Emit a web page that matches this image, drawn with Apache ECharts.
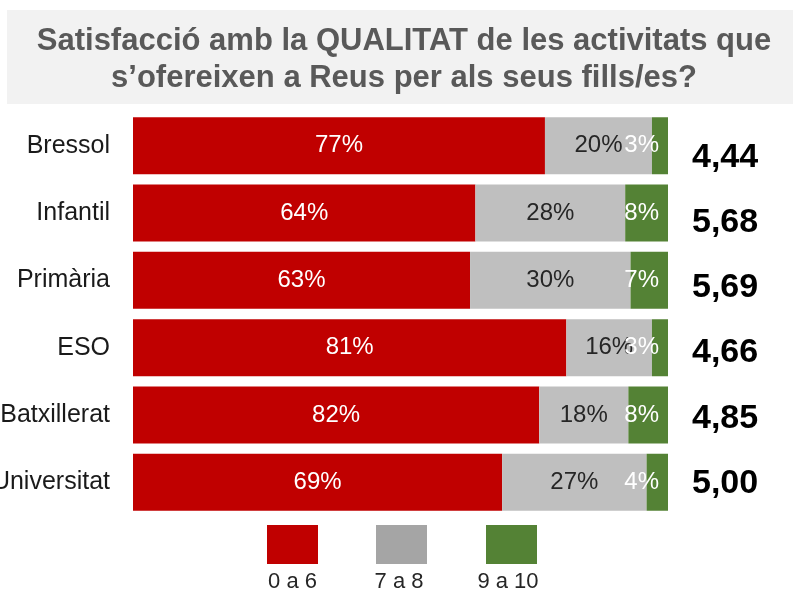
<!DOCTYPE html>
<html>
<head>
<meta charset="utf-8">
<script src="https://cdn.jsdelivr.net/npm/echarts@6/dist/echarts.min.js"></script>
<style>html,body{margin:0;padding:0;background:#fff;}#c{width:793px;height:590px;}</style>
</head>
<body>
<div id="c"></div>
<script>
var categories = ['Bressol', 'Infantil', 'Primària', 'ESO', 'Batxillerat', 'Universitat'];
var seriesNames = ['0 a 6', '7 a 8', '9 a 10'];
var low = [77, 64, 63, 81, 82, 69];
var mid = [20, 28, 30, 16, 18, 27];
var high = [3, 8, 7, 3, 8, 4];
var scores = [4.44, 5.68, 5.69, 4.66, 4.85, 5.00];

var FONT = "'Liberation Sans', Arial, sans-serif";
var raw = [low, mid, high];
var totals = categories.map(function (c, i) { return low[i] + mid[i] + high[i]; });
function shares(arr) {
  return arr.map(function (v, i) { return { value: v / totals[i] * 100, raw: v }; });
}
function pctLabel(p) { return p.data.raw + '%'; }

var colors = ['#C00000', '#BFBFBF', '#548235'];
var legendColors = ['#C00000', '#A5A5A5', '#548235'];
var labelColors = ['#FFFFFF', '#262626', '#FFFFFF'];

var chart = echarts.init(document.getElementById('c'), null, { renderer: 'canvas' });

var series = raw.map(function (arr, k) {
  return {
    name: seriesNames[k],
    type: 'bar',
    stack: 'total',
    barCategoryGap: '15.4%',
    xAxisIndex: 0,
    yAxisIndex: 0,
    data: shares(arr),
    itemStyle: { color: colors[k] },
    label: {
      show: true,
      position: k === 2 ? 'insideRight' : 'inside',
      distance: 9,
      formatter: pctLabel,
      color: labelColors[k],
      fontFamily: FONT,
      fontSize: 24
    }
  };
});

var legendLefts = [267, 376, 486];
var legendTextX = [292.5, 399, 508];
var legends = seriesNames.map(function (n, k) {
  return {
    show: true,
    left: legendLefts[k],
    top: 525,
    padding: 0,
    orient: 'horizontal',
    itemWidth: 51,
    itemHeight: 39,
    icon: 'rect',
    selectedMode: false,
    formatter: function () { return ''; },
    data: [{ name: n, icon: 'rect', itemStyle: { color: legendColors[k] } }]
  };
});

var legendTexts = seriesNames.map(function (n, k) {
  return {
    type: 'text',
    x: legendTextX[k],
    y: 582,
    style: {
      text: n,
      fontFamily: FONT,
      fontSize: 22,
      fill: '#262626',
      align: 'center',
      verticalAlign: 'middle'
    }
  };
});

chart.setOption({
  animation: false,
  backgroundColor: '#FFFFFF',
  graphic: [{
    type: 'rect',
    z: -10,
    shape: { x: 7, y: 10, width: 800, height: 94 },
    style: { fill: '#F2F2F2' }
  }].concat(legendTexts),
  title: {
    text: 'Satisfacció amb la QUALITAT de les activitats que\ns’ofereixen a Reus per als seus fills/es?',
    left: 404,
    top: 23,
    padding: 0,
    textAlign: 'center',
    textStyle: {
      fontFamily: FONT,
      fontWeight: 'bold',
      fontSize: 31,
      lineHeight: 37,
      color: '#595959'
    }
  },
  legend: legends,
  grid: [
    { left: 133, right: 125, top: 112, height: 404, containLabel: false, outerBoundsMode: 'none' },
    { left: 600, width: 66, top: 125, height: 391, containLabel: false, outerBoundsMode: 'none' }
  ],
  xAxis: [
    { type: 'value', min: 0, max: 100, show: false, gridIndex: 0 },
    { type: 'value', min: 0, max: 100, show: false, gridIndex: 1 }
  ],
  yAxis: [{
    type: 'category',
    gridIndex: 0,
    data: categories,
    inverse: true,
    position: 'left',
    axisLine: { show: false },
    axisTick: { show: false },
    axisLabel: { margin: 23, fontFamily: FONT, fontSize: 25, color: '#1A1A1A' }
  }, {
    type: 'category',
    gridIndex: 1,
    data: scores.map(function (s) { return s.toFixed(2).replace('.', ','); }),
    inverse: true,
    position: 'right',
    axisLine: { show: false },
    axisTick: { show: false },
    splitLine: { show: false },
    axisLabel: { margin: 26, fontFamily: FONT, fontSize: 34, fontWeight: 'bold', color: '#000000' }
  }],
  series: series
});
</script>
</body>
</html>
